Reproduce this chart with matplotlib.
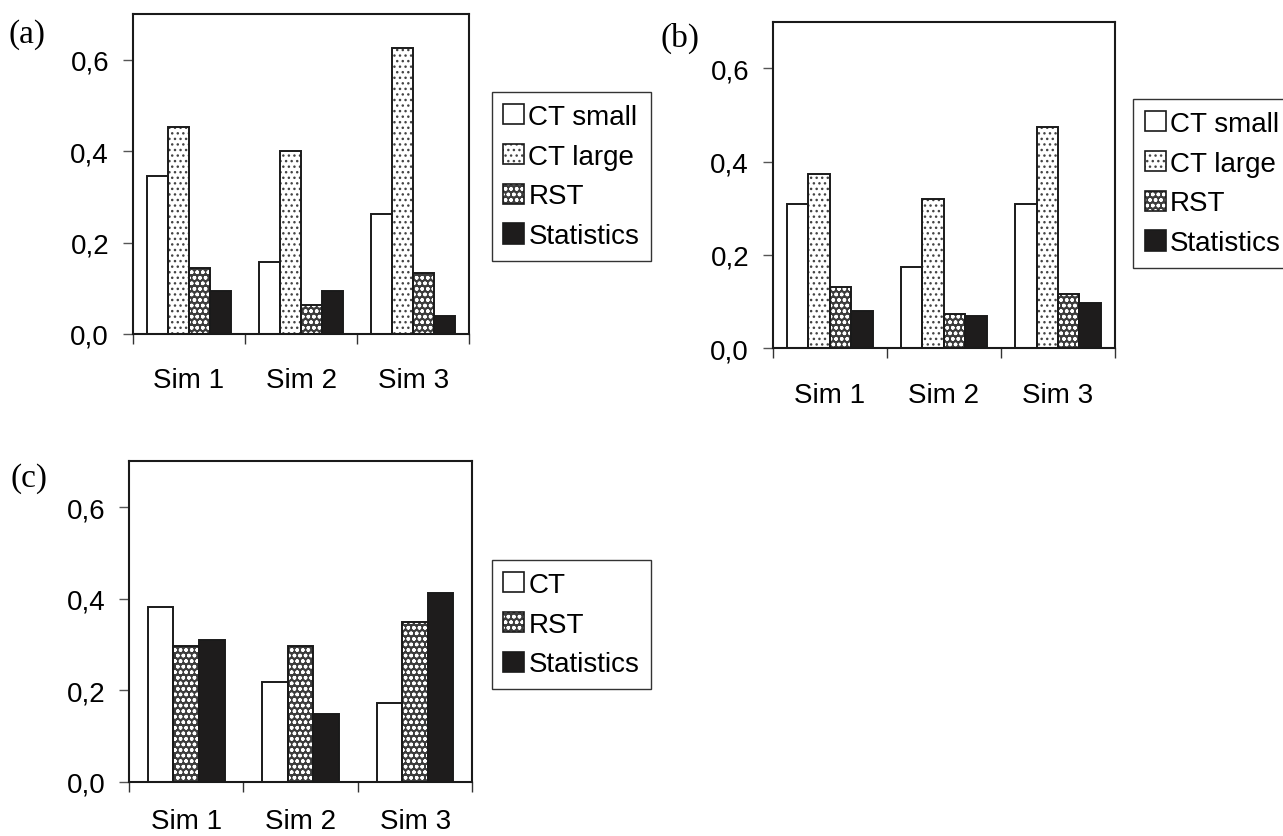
import matplotlib
matplotlib.use("Agg")
import matplotlib.pyplot as plt
import matplotlib.patches as mpatches
import numpy as np

plt.rcParams['font.family'] = ['Liberation Sans', 'DejaVu Sans']
plt.rcParams['hatch.linewidth'] = 1.0

W, H = 1283, 837

sims = ['Sim 1', 'Sim 2', 'Sim 3']
y_ticks = [0.0, 0.2, 0.4, 0.6]
y_tick_labels = ['0,0', '0,2', '0,4', '0,6']

# panel (a)
a_ct_small = [0.346, 0.158, 0.262]
a_ct_large = [0.452, 0.401, 0.625]
a_rst = [0.144, 0.064, 0.133]
a_stat = [0.095, 0.095, 0.040]

# panel (b)
b_ct_small = [0.310, 0.175, 0.310]
b_ct_large = [0.373, 0.320, 0.474]
b_rst = [0.132, 0.074, 0.116]
b_stat = [0.079, 0.069, 0.098]

# panel (c)
c_ct = [0.382, 0.218, 0.173]
c_rst = [0.297, 0.297, 0.348]
c_stat = [0.309, 0.149, 0.412]

# fill, hatch colour, hatch pattern for each method
styles = {
    'CT small': ('white', 'white', None),
    'CT': ('white', 'white', None),
    'CT large': ('white', '#444444', '...'),
    'RST': ('#3c3c3c', 'white', 'ooo'),
    'Statistics': ('#1e1c1c', '#1e1c1c', None),
}

FS = 20


def draw_panel(rect, series, group_width, label_pad=24):
    ax = fig.add_axes(rect)
    x = np.arange(len(sims))
    n = len(series)
    bw = group_width / n
    handles, labels = [], []
    for i, (name, vals) in enumerate(series):
        fc, hc, hatch = styles[name]
        pos = x - group_width / 2 + bw * (i + 0.5)
        # hatched fill first, then a plain black outline on top
        ax.bar(pos, vals, bw, color=fc, edgecolor=hc, hatch=hatch, linewidth=0, zorder=2)
        ax.bar(pos, vals, bw, facecolor='none', edgecolor='#1a1a1a', linewidth=1.4, zorder=3)
        handles.append((mpatches.Patch(facecolor=fc, edgecolor=hc, hatch=hatch, linewidth=0),
                        mpatches.Patch(facecolor='none', edgecolor='#1a1a1a', linewidth=1.2)))
        labels.append(name)
    ax.set_xlim(-0.5, len(sims) - 0.5)
    ax.set_ylim(0, 0.7)
    ax.set_yticks(y_ticks)
    ax.set_yticklabels(y_tick_labels)
    # tick marks between groups, labels under group centres
    ax.set_xticks(np.arange(len(sims) + 1) - 0.5)
    ax.set_xticklabels([])
    ax.set_xticks(x, minor=True)
    ax.set_xticklabels(sims, minor=True)
    ax.tick_params(axis='x', which='major', direction='out', length=7, width=1.0, color='#333333')
    ax.tick_params(axis='x', which='minor', length=0, pad=label_pad, labelsize=FS)
    ax.tick_params(axis='y', direction='out', length=7, width=1.0, color='#555555', pad=10, labelsize=FS)
    for s in ax.spines.values():
        s.set_linewidth(1.5)
        s.set_color('#1a1a1a')
    return ax, handles, labels


def add_legend(handles, labels, x0, y0):
    fig.legend(handles, labels, loc='upper left', bbox_to_anchor=(x0 / W, 1 - y0 / H),
               borderaxespad=0, fancybox=False, framealpha=1, edgecolor='#333333',
               fontsize=FS, handlelength=0.75, handleheight=0.75, handletextpad=0.15,
               borderpad=0.42, labelspacing=0.5)


fig = plt.figure(figsize=(W / 100, H / 100), dpi=100)

ax_a, h, l = draw_panel([132.7 / W, 1 - 335 / H, 336.6 / W, 320 / H],
                        [('CT small', a_ct_small), ('CT large', a_ct_large),
                         ('RST', a_rst), ('Statistics', a_stat)], 0.75)
add_legend(h, l, 491.7, 93)

ax_b, h, l = draw_panel([772.7 / W, 1 - 349.3 / H, 342.3 / W, 326.6 / H],
                        [('CT small', b_ct_small), ('CT large', b_ct_large),
                         ('RST', b_rst), ('Statistics', b_stat)], 0.75)
add_legend(h, l, 1133.3, 100)

ax_c, h, l = draw_panel([129 / W, 1 - 782.7 / H, 343.3 / W, 320.4 / H],
                        [('CT', c_ct), ('RST', c_rst), ('Statistics', c_stat)], 0.67,
                        label_pad=19)
add_legend(h, l, 491.7, 561)

for lab, (px, py) in zip(['(a)', '(b)', '(c)'], [(8, 35), (661, 38), (10, 479)]):
    fig.text(px / W, 1 - py / H, lab, family='Liberation Serif', fontsize=24,
             ha='left', va='center')

fig.savefig('out.png', dpi=100)
